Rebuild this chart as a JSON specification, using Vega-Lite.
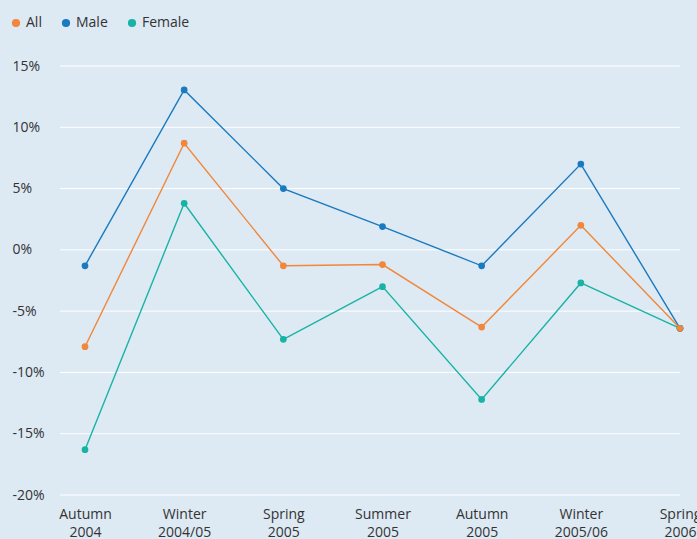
{
  "$schema": "https://vega.github.io/schema/vega-lite/v6.json",
  "width": 620,
  "height": 429,
  "autosize": {"type": "none"},
  "padding": {"left": 60, "top": 66, "right": 17, "bottom": 44},
  "background": "#dde9f3",
  "config": {
    "view": {"stroke": null},
    "font": "Open Sans",
    "axis": {"labelFont": "Open Sans", "labelFontSize": 14, "labelColor": "#333333"},
    "legend": {"labelFont": "Open Sans", "labelFontSize": 14, "labelColor": "#333333"}
  },
  "layer": [
    {
      "data": {"values": [{"g": -20}, {"g": -15}, {"g": -10}, {"g": -5}, {"g": 0}, {"g": 5}, {"g": 10}, {"g": 15}]},
      "mark": {"type": "rule", "color": "#ffffff", "strokeWidth": 1},
      "encoding": {
        "y": {
          "field": "g",
          "type": "quantitative",
          "scale": {"domain": [-20, 15], "nice": false, "zero": false},
          "axis": {
            "title": null,
            "values": [-20, -15, -10, -5, 0, 5, 10, 15],
            "labelExpr": "datum.value + '%'",
            "labelAlign": "left",
            "labelPadding": 48,
            "domain": false,
            "ticks": false,
            "grid": false
          }
        }
      }
    },
    {
      "data": {
        "values": [
          {"season": "Autumn 2004", "group": "Female", "value": -16.3},
          {"season": "Winter 2004/05", "group": "Female", "value": 3.8},
          {"season": "Spring 2005", "group": "Female", "value": -7.3},
          {"season": "Summer 2005", "group": "Female", "value": -3.0},
          {"season": "Autumn 2005", "group": "Female", "value": -12.2},
          {"season": "Winter 2005/06", "group": "Female", "value": -2.7},
          {"season": "Spring 2006", "group": "Female", "value": -6.4},
          {"season": "Autumn 2004", "group": "Male", "value": -1.3},
          {"season": "Winter 2004/05", "group": "Male", "value": 13.05},
          {"season": "Spring 2005", "group": "Male", "value": 5.0},
          {"season": "Summer 2005", "group": "Male", "value": 1.9},
          {"season": "Autumn 2005", "group": "Male", "value": -1.3},
          {"season": "Winter 2005/06", "group": "Male", "value": 7.0},
          {"season": "Spring 2006", "group": "Male", "value": -6.4},
          {"season": "Autumn 2004", "group": "All", "value": -7.9},
          {"season": "Winter 2004/05", "group": "All", "value": 8.7},
          {"season": "Spring 2005", "group": "All", "value": -1.3},
          {"season": "Summer 2005", "group": "All", "value": -1.2},
          {"season": "Autumn 2005", "group": "All", "value": -6.3},
          {"season": "Winter 2005/06", "group": "All", "value": 2.0},
          {"season": "Spring 2006", "group": "All", "value": -6.4}
        ]
      },
      "encoding": {
        "x": {
          "field": "season",
          "type": "ordinal",
          "sort": ["Autumn 2004", "Winter 2004/05", "Spring 2005", "Summer 2005", "Autumn 2005", "Winter 2005/06", "Spring 2006"],
          "scale": {"type": "point", "range": [25, 620], "padding": 0},
          "axis": {
            "title": null,
            "labelAngle": 0,
            "domain": false,
            "ticks": false,
            "grid": false,
            "labelPadding": 12,
            "labelLineHeight": 18,
            "labelExpr": "split(datum.label, ' ')"
          }
        },
        "y": {
          "field": "value",
          "type": "quantitative"
        },
        "color": {
          "field": "group",
          "type": "nominal",
          "scale": {"domain": ["All", "Male", "Female"], "range": ["#f0873a", "#1a7abf", "#19b3a6"]},
          "legend": {
            "title": null,
            "orient": "none",
            "legendX": -51,
            "legendY": -50,
            "direction": "horizontal",
            "symbolType": "circle",
            "symbolSize": 45,
            "symbolOpacity": 1,
            "labelOffset": 3,
            "columnPadding": 17
          }
        }
      },
      "layer": [
        {"mark": {"type": "line", "strokeWidth": 1.4}},
        {"mark": {"type": "point", "filled": true, "size": 45, "opacity": 1}}
      ]
    }
  ]
}
